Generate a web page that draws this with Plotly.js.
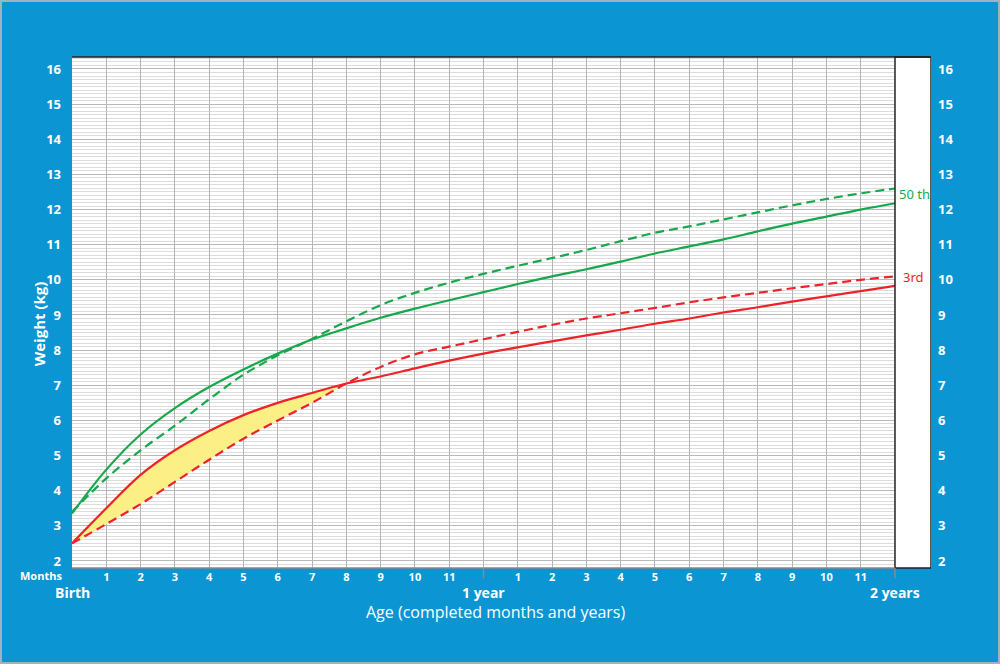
<!DOCTYPE html>
<html>
<head>
<meta charset="utf-8">
<script src="https://cdn.plot.ly/plotly-3.0.1.min.js"></script>
<style>
  html, body { margin: 0; padding: 0; background: #0b95d3; }
  #chart { width: 1000px; height: 664px; position: relative; }
  #frame { position: absolute; left: 0; top: 0; width: 1000px; height: 664px; box-sizing: border-box; border: 2px solid #9fb3bd; pointer-events: none; }
</style>
</head>
<body>
<div id="chart"></div>
<div id="frame"></div>
<script>
// Age in completed months (0 = birth, 12 = 1 year, 24 = 2 years)
const months = [0,1,2,3,4,5,6,7,8,9,10,11,12,13,14,15,16,17,18,19,20,21,22,23,24];
// 50th percentile, solid green
const p50Solid = [3.35,4.6,5.6,6.35,6.95,7.45,7.9,8.3,8.62,8.92,9.18,9.42,9.65,9.88,10.1,10.3,10.52,10.75,10.95,11.15,11.38,11.6,11.8,12.0,12.18];
// 50th percentile, dashed green
const p50Dashed = [3.4,4.35,5.15,5.85,6.6,7.3,7.85,8.32,8.82,9.28,9.63,9.92,10.17,10.4,10.62,10.85,11.1,11.34,11.52,11.72,11.92,12.12,12.3,12.46,12.6];
// 3rd percentile, solid red
const p3Solid = [2.5,3.5,4.45,5.15,5.7,6.15,6.5,6.78,7.05,7.25,7.48,7.7,7.9,8.08,8.25,8.42,8.58,8.75,8.9,9.07,9.22,9.38,9.53,9.68,9.83];
// 3rd percentile, dashed red
const p3Dashed = [2.5,3.05,3.62,4.25,4.88,5.48,6.0,6.5,7.05,7.52,7.88,8.1,8.31,8.52,8.72,8.9,9.05,9.2,9.36,9.5,9.63,9.76,9.88,10.0,10.1];

// Tick labels
const monthTickVals = [1,2,3,4,5,6,7,8,9,10,11,12,13,14,15,16,17,18,19,20,21,22,23];
const monthTickText = ['1','2','3','4','5','6','7','8','9','10','11','','1','2','3','4','5','6','7','8','9','10','11'];
const weightTicks = [2,3,4,5,6,7,8,9,10,11,12,13,14,15,16];
const milestoneVals = [0,12,24];
const milestoneText = ['Birth','1 year','2 years'];

const GREEN = '#16a84b';
const RED = '#ee2229';
const FILL_END = 8; // yellow gap shown from birth up to 8 months
const xMax = 25.05;

const fillX = months.slice(0, FILL_END + 1).concat(months.slice(0, FILL_END + 1).reverse());
const fillY = p3Solid.slice(0, FILL_END + 1).concat(p3Dashed.slice(0, FILL_END + 1).reverse());

const traces = [
  { x: fillX, y: fillY, type: 'scatter', mode: 'lines', fill: 'toself', fillcolor: '#fcef86',
    line: { width: 0, shape: 'spline' }, hoverinfo: 'skip', showlegend: false },
  { x: months, y: p50Dashed, type: 'scatter', mode: 'lines', name: '50th dashed',
    line: { color: GREEN, width: 2.2, dash: '9px,5px', shape: 'spline' } },
  { x: months, y: p50Solid, type: 'scatter', mode: 'lines', name: '50th',
    line: { color: GREEN, width: 2.2, shape: 'spline' } },
  { x: months, y: p3Dashed, type: 'scatter', mode: 'lines', name: '3rd dashed',
    line: { color: RED, width: 2.2, dash: '9px,5px', shape: 'spline' } },
  { x: months, y: p3Solid, type: 'scatter', mode: 'lines', name: '3rd',
    line: { color: RED, width: 2.2, shape: 'spline' } },
  { x: months, y: p3Solid, type: 'scatter', mode: 'lines', yaxis: 'y2', hoverinfo: 'skip',
    line: { width: 0 }, showlegend: false }
];

const tickFont = { family: 'Open Sans, sans-serif', size: 13, color: '#ffffff', weight: 700 };

const annotations = [
  { text: 'Months', xref: 'paper', yref: 'paper', x: -0.036, y: -0.0155, xanchor: 'center', yanchor: 'middle',
    showarrow: false, font: { family: 'Open Sans, sans-serif', size: 11, color: '#fff', weight: 700 } },
  { text: 'Age (completed months and years)', xref: 'paper', yref: 'paper', x: 0.4925, y: -0.086,
    xanchor: 'center', yanchor: 'middle', showarrow: false,
    font: { family: 'Open Sans, sans-serif', size: 16, color: '#fff' } },
  { text: 'Weight (kg)', xref: 'paper', yref: 'paper', x: -0.039, y: 0.478, textangle: -90,
    xanchor: 'center', yanchor: 'middle', showarrow: false,
    font: { family: 'Open Sans, sans-serif', size: 15, color: '#fff', weight: 700 } },
  { text: '50 th', x: 24.06 / xMax, y: 12.45, xref: 'paper', yref: 'y', xanchor: 'left', yanchor: 'middle',
    showarrow: false, font: { family: 'Noto Sans, sans-serif', size: 13, color: GREEN } },
  { text: '3rd', x: 24.18 / xMax, y: 10.08, xref: 'paper', yref: 'y', xanchor: 'left', yanchor: 'middle',
    showarrow: false, font: { family: 'Noto Sans, sans-serif', size: 13, color: RED } }
];
milestoneVals.forEach((v, i) => {
  annotations.push({ text: milestoneText[i], x: v, xref: 'x', yref: 'paper', y: -0.047,
    xanchor: 'center', yanchor: 'middle', showarrow: false,
    font: { family: 'Open Sans, sans-serif', size: 14, color: '#fff', weight: 700 } });
});

const shapes = [
  // white strip to the right of the 2-year line
  { type: 'rect', xref: 'x', yref: 'paper', x0: 24, x1: xMax, y0: 0, y1: 1,
    fillcolor: '#ffffff', line: { color: '#222', width: 1.5 }, layer: 'above' },
  // top border
  { type: 'line', xref: 'paper', yref: 'paper', x0: 0, x1: 1, y0: 1, y1: 1,
    line: { color: '#222', width: 1.5 }, layer: 'above' },
  // bottom border
  { type: 'line', xref: 'x', yref: 'paper', x0: 0, x1: 24, y0: 0, y1: 0,
    line: { color: '#8a8a8a', width: 1.5 }, layer: 'above' }
];
[12, 24].forEach(v => {
  shapes.push({ type: 'line', xref: 'x', yref: 'paper', x0: v, x1: v, y0: 0, y1: -0.02,
    line: { color: '#8a8a8a', width: 1.5 }, layer: 'above' });
});

const layout = {
  width: 1000, height: 664,
  paper_bgcolor: '#0b95d3', plot_bgcolor: '#ffffff',
  margin: { l: 72, r: 69, t: 57, b: 96 },
  showlegend: false,
  xaxis: {
    range: [0, xMax], tickvals: monthTickVals, ticktext: monthTickText,
    showgrid: true, gridcolor: '#b4b4b4', gridwidth: 1, zeroline: false, showline: false,
    ticks: '', ticklabelstandoff: 1, tickfont: { family: 'Open Sans, sans-serif', size: 11, color: '#fff', weight: 700 }
  },
  yaxis: {
    range: [1.8, 16.341], tickvals: weightTicks, showgrid: true, gridcolor: '#b8b8b8', gridwidth: 1,
    minor: { dtick: 0.1, showgrid: true, gridcolor: '#dcdcdc', gridwidth: 1, ticks: '' },
    zeroline: false, showline: false, ticks: '', ticklabelstandoff: 10, tickfont: tickFont
  },
  yaxis2: {
    range: [1.8, 16.341], tickvals: weightTicks, overlaying: 'y', side: 'right',
    showgrid: false, zeroline: false, showline: false, ticks: '', ticklabelstandoff: 6, tickfont: tickFont
  },
  shapes: shapes,
  annotations: annotations
};

Plotly.newPlot('chart', traces, layout, { displayModeBar: false, staticPlot: true });
</script>
</body>
</html>
